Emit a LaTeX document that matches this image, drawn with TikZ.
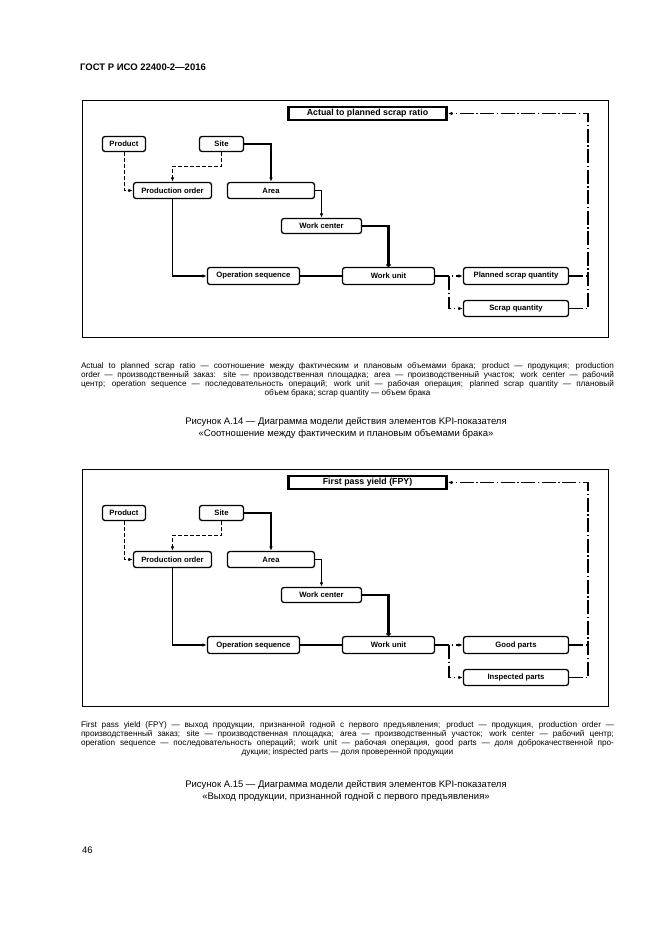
\documentclass[tikz,border=0pt]{standalone}
\usepackage{fontspec}
\setmainfont{Liberation Sans}
\usetikzlibrary{arrows.meta}

\tikzset{
  kpibox/.style={draw, line width=1.3pt, rounded corners=2.5pt, inner sep=0pt, font=\fontsize{7.7}{9}\selectfont\bfseries},
  kpititle/.style={draw, line width=2.6pt, inner sep=0pt, minimum width=158pt, minimum height=13pt, font=\fontsize{8.8}{10}\selectfont\bfseries},
  link/.style={line width=1.1pt},
  tip/.style={-{Latex[length=4.5pt,width=3.5pt]}},
  dashlink/.style={line width=1pt, dash pattern=on 4pt off 2pt},
  dotlink/.style={line width=1.1pt, dash pattern=on 14pt off 2.5pt on 1.5pt off 2.5pt},
  note/.style={inner sep=0pt, align=center, font=\fontsize{8.2}{9.2}\selectfont},
  caption/.style={inner sep=0pt, align=center, font=\fontsize{9.5}{12.5}\selectfont}
}

\begin{document}
\begin{tikzpicture}[x=1pt,y=-1pt]
\useasboundingbox (0,0) rectangle (661,935);
\node[anchor=west, inner sep=0pt, font=\fontsize{9.5}{11}\selectfont\bfseries] (header) at (80,67) {ГОСТ Р ИСО 22400-2—2016};

\foreach \dy/\pre/\ttl/\outa/\outb in {0/a/Actual to planned scrap ratio/Planned scrap quantity/Scrap quantity, 369/b/First pass yield (FPY)/Good parts/Inspected parts}{
\begin{scope}[shift={(0,\dy)}, name prefix=\pre-]
\node[draw, line width=1.3pt, minimum width=525.7pt, minimum height=236.7pt] (frame) at (345.5,219) {};
\node[kpititle] (ratio) at (367.5,113.5) {\ttl};
\node[kpibox, minimum width=43pt, minimum height=15pt] (product) at (124,144) {Product};
\node[kpibox, minimum width=44pt, minimum height=15pt] (site) at (221.5,144) {Site};
\node[kpibox, minimum width=78pt, minimum height=16pt] (order) at (172.5,190.5) {Production order};
\node[kpibox, minimum width=87pt, minimum height=16pt] (area) at (271,190.5) {Area};
\node[kpibox, minimum width=80pt, minimum height=15pt] (center) at (321.5,226) {Work center};
\node[kpibox, minimum width=92pt, minimum height=17pt] (sequence) at (253.5,276) {Operation sequence};
\node[kpibox, minimum width=92pt, minimum height=17pt] (unit) at (388.5,276) {Work unit};
\node[kpibox, minimum width=105pt, minimum height=17pt] (plan) at (516,276) {\outa};
\node[kpibox, minimum width=105pt, minimum height=16pt] (fact) at (516,308.5) {\outb};
\coordinate (fork) at (449,276);
\coordinate (back) at (588,113.5);
% inputs
\draw[dashlink, tip] (product.south) |- (order.west);
\draw[dashlink, tip] (site.south) -- ++(0,14) -| (order.north);
\draw[link, tip] (site.east) -| (area.north);
\draw[link, tip] (area.east) -| (center.north);
\draw[line width=2.2pt, -{Circle[length=4pt]}] (center.east) -| (unit.north);
\draw[link, tip] (order.south) |- (sequence.west);
\draw[link] (sequence) -- (unit);
% outputs
\draw[dotlink, tip] (unit.east) -- (plan.west);
\draw[dotlink, tip] (fork) |- (fact.west);
\draw[dotlink] (plan.east) -- (plan.east -| back);
\draw[dotlink, tip] (fact.east) -| (back) -- (ratio.east);
\end{scope}
}

\node[note, anchor=north] (legendA) at (347.5,362) {%
\makebox[533pt][s]{Actual to planned scrap ratio — соотношение между фактическим и плановым объемами брака; product — продукция; production}\\
\makebox[533pt][s]{order — производственный заказ: site — производственная площадка; area — производственный участок; work center — рабочий}\\
\makebox[533pt][s]{центр; operation sequence — последовательность операций; work unit — рабочая операция; planned scrap quantity — плановый}\\
объем брака; scrap quantity — объем брака};
\node[caption, anchor=north] (captionA) at (346,417) {Рисунок А.14 — Диаграмма модели действия элементов KPI-показателя\\«Соотношение между фактическим и плановым объемами брака»};

\node[note, anchor=north] (legendB) at (347.5,721) {%
\makebox[533pt][s]{First pass yield (FPY) — выход продукции, признанной годной с первого предъявления; product — продукция, production order —}\\
\makebox[533pt][s]{производственный заказ; site — производственная площадка; area — производственный участок; work center — рабочий центр;}\\
\makebox[533pt][s]{operation sequence — последовательность операций; work unit — рабочая операция, good parts — доля доброкачественной про-}\\
дукции; inspected parts — доля проверенной продукции};
\node[caption, anchor=north] (captionB) at (346,780) {Рисунок А.15 — Диаграмма модели действия элементов KPI-показателя\\«Выход продукции, признанной годной с первого предъявления»};

\node[anchor=west, inner sep=0pt, font=\fontsize{9.5}{11}\selectfont] (page) at (82,850) {46};
\end{tikzpicture}
\end{document}
